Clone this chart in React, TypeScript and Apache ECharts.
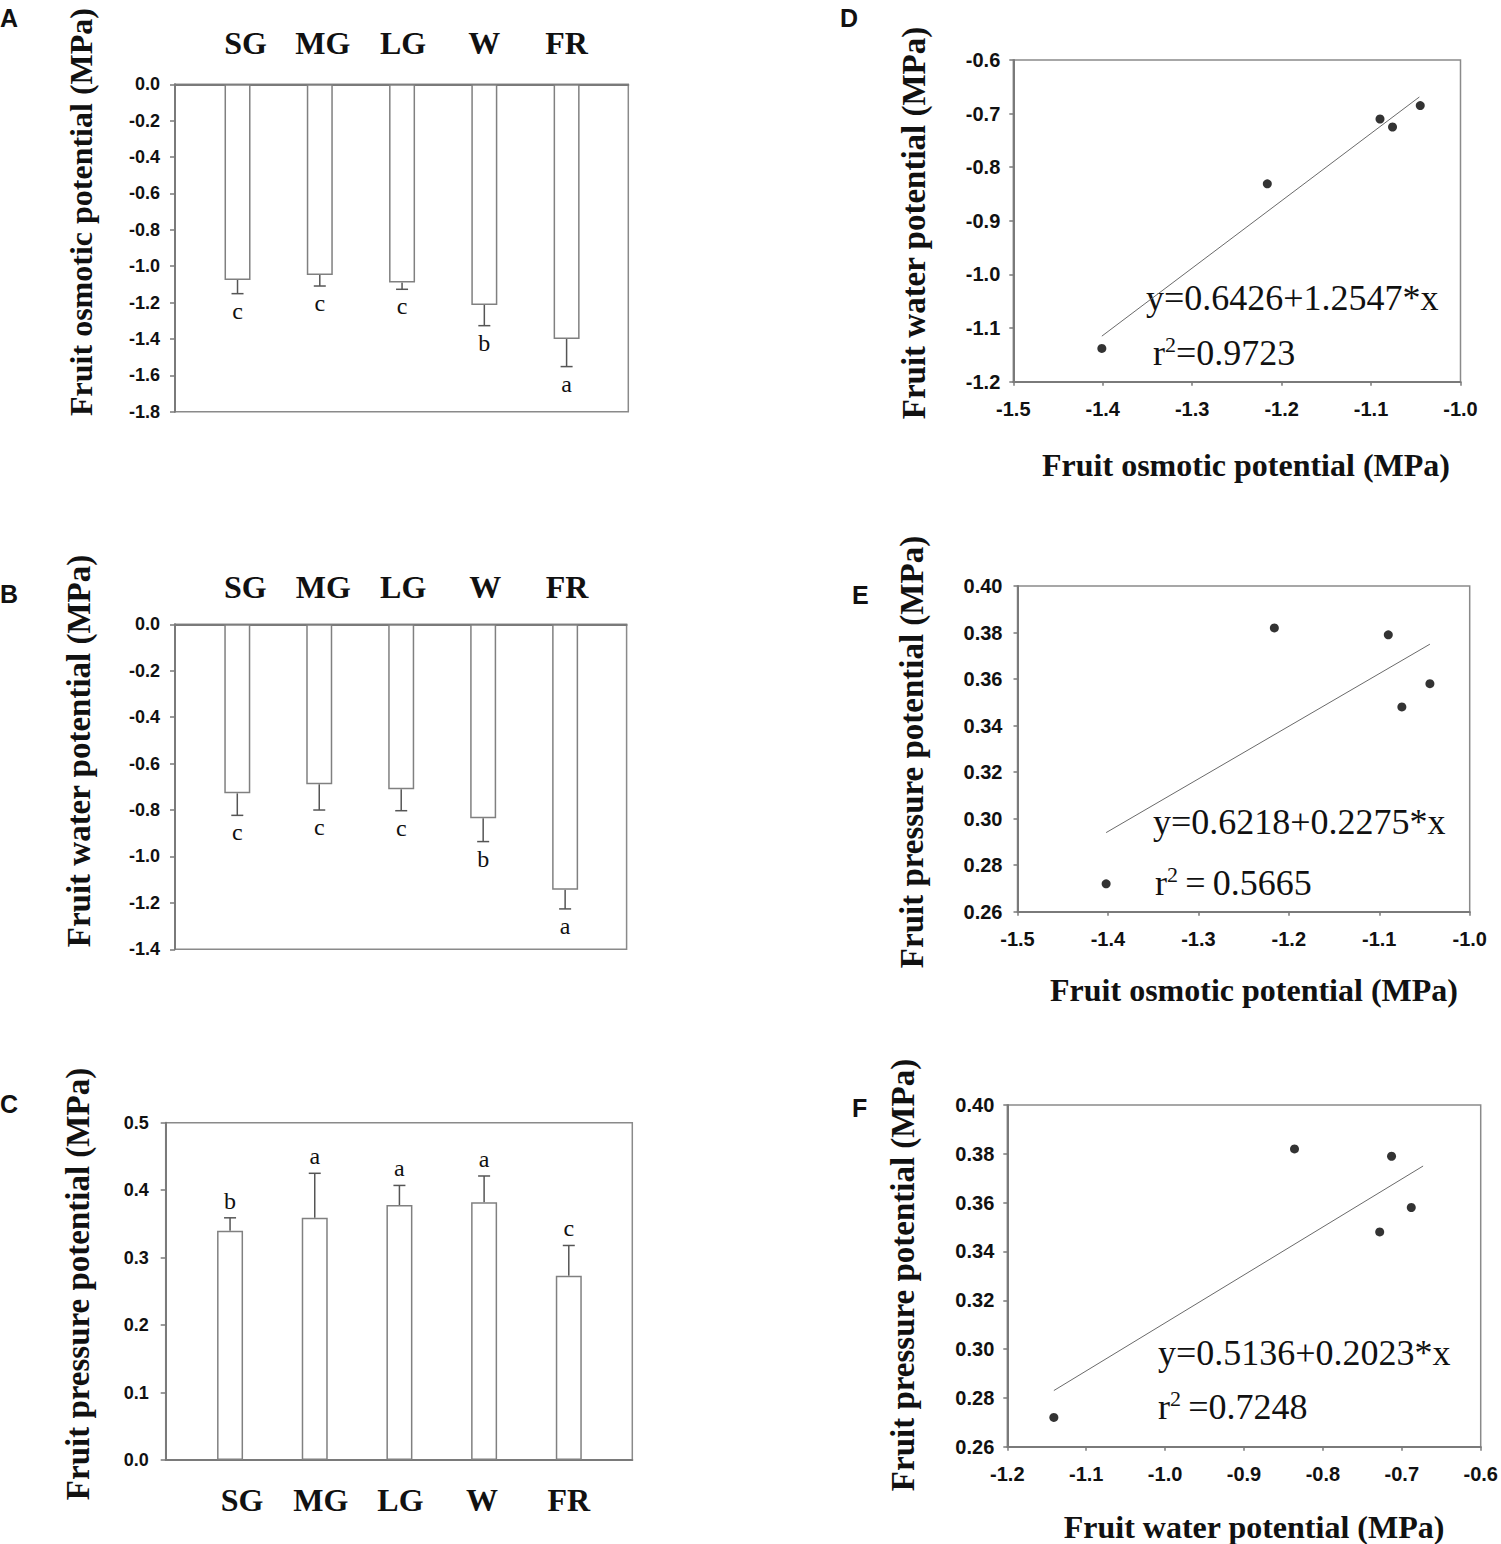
import React, { useEffect, useRef } from 'react';
import * as echarts from 'echarts';

// ---------- data ----------
const stages = ['SG', 'MG', 'LG', 'W', 'FR'];
const stagePos = [1, 2, 3, 4, 5];

const osmoticMean = [-1.076, -1.048, -1.089, -1.213, -1.4];
const osmoticErr = [0.075, 0.061, 0.038, 0.114, 0.152];
const osmoticLetters = ['c', 'c', 'c', 'b', 'a'];

const waterMean = [-0.728, -0.689, -0.711, -0.836, -1.144];
const waterErr = [0.095, 0.111, 0.092, 0.1, 0.082];
const waterLetters = ['c', 'c', 'c', 'b', 'a'];

const pressureMean = [0.34, 0.359, 0.378, 0.382, 0.273];
const pressureErr = [0.019, 0.066, 0.029, 0.039, 0.045];
const pressureLetters = ['b', 'a', 'a', 'a', 'c'];

const dOsmotic = [-1.076, -1.045, -1.09, -1.216, -1.401];
const dWater = [-0.725, -0.685, -0.71, -0.831, -1.138];
const fitD = [[-1.401, -1.115], [-1.046, -0.669]];

const eOsmotic = [-1.075, -1.044, -1.09, -1.216, -1.402];
const ePressure = [0.348, 0.358, 0.379, 0.382, 0.272];
const fitE = [[-1.402, 0.294], [-1.044, 0.375]];

const fWater = [-0.728, -0.688, -0.713, -0.836, -1.141];
const fPressure = [0.348, 0.358, 0.379, 0.382, 0.272];
const fitF = [[-1.141, 0.283], [-0.673, 0.375]];

const eqD = ['y=0.6426+1.2547*x', '=0.9723'];
const eqE = ['y=0.6218+0.2275*x', '\u2009=\u20090.5665'];
const eqF = ['y=0.5136+0.2023*x', '\u2009=0.7248'];

// ---------- styles ----------
const SERIF = '"Liberation Serif", "Times New Roman", serif';
const SANS = '"Liberation Sans", Arial, sans-serif';
const FRAME = '#8a8a8a';
const AXIS = '#7a7a7a';
const INK = '#111';

const barPanels = [
  {
    grid: { left: 175, top: 84.3, width: 453.3, height: 327.4 },
    mean: osmoticMean, err: osmoticErr, letters: osmoticLetters,
    yMin: -1.8, yMax: 0, yInt: 0.2, labelPos: 'top', labelMargin: 41,
    labelShift: [8, 3, 1, 0, 0], yLabelMargin: 15,
  },
  {
    grid: { left: 175, top: 624.3, width: 451.6, height: 325 },
    mean: waterMean, err: waterErr, letters: waterLetters,
    yMin: -1.4, yMax: 0, yInt: 0.2, labelPos: 'top', labelMargin: 37,
    labelShift: [8, 4, 2, 2, 2], yLabelMargin: 15,
  },
  {
    grid: { left: 165.7, top: 1122.7, width: 466.6, height: 337.3 },
    mean: pressureMean, err: pressureErr, letters: pressureLetters,
    yMin: 0, yMax: 0.5, yInt: 0.1, labelPos: 'bottom', labelMargin: 40,
    labelShift: [12, 6, 1, -2, 0], yLabelMargin: 17,
  },
];

const scatterPanels = [
  {
    grid: { left: 1013.3, top: 60, width: 447.2, height: 321.7 },
    xs: dOsmotic, ys: dWater, fit: fitD,
    xMin: -1.5, xMax: -1.0, yMin: -1.2, yMax: -0.6, yInt: 0.1, yDigits: 1, yLabelMargin: 13,
  },
  {
    grid: { left: 1017.5, top: 586, width: 452.2, height: 325.7 },
    xs: eOsmotic, ys: ePressure, fit: fitE,
    xMin: -1.5, xMax: -1.0, yMin: 0.26, yMax: 0.4, yInt: 0.02, yDigits: 2, yLabelMargin: 15,
  },
  {
    grid: { left: 1007.3, top: 1105, width: 473.4, height: 341.7 },
    xs: fWater, ys: fPressure, fit: fitF,
    xMin: -1.2, xMax: -0.6, yMin: 0.26, yMax: 0.4, yInt: 0.02, yDigits: 2, yLabelMargin: 13,
  },
];

function buildOption() {
  const grid: any[] = [];
  const xAxis: any[] = [];
  const yAxis: any[] = [];
  const series: any[] = [];

  barPanels.forEach((p) => {
    const gi = grid.length;
    grid.push({ ...p.grid, show: true, borderColor: FRAME, borderWidth: 1.5, backgroundColor: 'transparent' });
    const rich: any = {};
    p.labelShift.forEach((s, i) => {
      rich['s' + i] = {
        fontFamily: SERIF, fontWeight: 'bold', fontSize: 32, color: INK,
        padding: s >= 0 ? [0, 0, 0, 2 * s] : [0, -2 * s, 0, 0],
      };
    });
    xAxis.push({
      gridIndex: gi, type: 'value', min: 0.24, max: 5.75, position: p.labelPos,
      axisLine: { show: true, onZero: false, lineStyle: { color: AXIS, width: 2 } },
      axisTick: { show: false }, splitLine: { show: false },
      axisLabel: {
        customValues: stagePos,
        formatter: (v: number) => {
          const i = Math.round(v) - 1;
          return Math.abs(v - Math.round(v)) < 1e-6 && i >= 0 && i < 5 ? `{s${i}|${stages[i]}}` : '';
        },
        rich, margin: p.labelMargin, verticalAlign: 'middle',
        fontFamily: SERIF, fontWeight: 'bold', fontSize: 32, color: INK,
      },
    });
    yAxis.push({
      gridIndex: gi, type: 'value', min: p.yMin, max: p.yMax, interval: p.yInt,
      axisLine: { show: true, onZero: false, lineStyle: { color: AXIS, width: 2 } },
      axisTick: { show: true, inside: false, length: 5, lineStyle: { color: AXIS, width: 1.5 } },
      splitLine: { show: false },
      axisLabel: {
        formatter: (v: number) => v.toFixed(1), margin: p.yLabelMargin,
        fontFamily: SANS, fontWeight: 'bold', fontSize: 18, color: INK,
      },
    });
    series.push({
      type: 'bar', xAxisIndex: gi, yAxisIndex: gi, silent: true, barWidth: 26,
      data: stagePos.map((x, i) => [x, p.mean[i]]),
      itemStyle: { color: '#fff', borderColor: '#808080', borderWidth: 1.5 },
    });
    const letters = p.letters;
    series.push({
      type: 'custom', xAxisIndex: gi, yAxisIndex: gi, silent: true,
      data: stagePos.map((x, i) => [x, p.mean[i], p.err[i], i]),
      encode: { x: 0, y: 1 },
      renderItem: (params: any, api: any) => {
        const x = api.value(0);
        const m = api.value(1);
        const e = api.value(2);
        const idx = api.value(3);
        const sign = m < 0 ? -1 : 1;
        const p0 = api.coord([x, m]);
        const p1 = api.coord([x, m + sign * e]);
        const cap = 6;
        const ls = { stroke: '#555', lineWidth: 1.5 };
        return {
          type: 'group',
          children: [
            { type: 'line', shape: { x1: p0[0], y1: p0[1], x2: p1[0], y2: p1[1] }, style: ls },
            { type: 'line', shape: { x1: p1[0] - cap, y1: p1[1], x2: p1[0] + cap, y2: p1[1] }, style: ls },
            {
              type: 'text', x: p1[0], y: p1[1] - sign * 17,
              style: {
                text: letters[idx], fontFamily: SERIF, fontSize: 24, fill: INK,
                align: 'center', verticalAlign: 'middle',
              },
            },
          ],
        };
      },
    });
  });

  scatterPanels.forEach((p) => {
    const gi = grid.length;
    grid.push({ ...p.grid, show: true, borderColor: FRAME, borderWidth: 1.5, backgroundColor: 'transparent' });
    xAxis.push({
      gridIndex: gi, type: 'value', min: p.xMin, max: p.xMax, interval: 0.1,
      axisLine: { show: true, onZero: false, lineStyle: { color: AXIS, width: 2 } },
      axisTick: { show: true, inside: false, length: 4, lineStyle: { color: AXIS, width: 1.5 } },
      splitLine: { show: false },
      axisLabel: {
        formatter: (v: number) => v.toFixed(1), margin: 17,
        fontFamily: SANS, fontWeight: 'bold', fontSize: 20, color: INK,
      },
    });
    yAxis.push({
      gridIndex: gi, type: 'value', min: p.yMin, max: p.yMax, interval: p.yInt,
      axisLine: { show: true, onZero: false, lineStyle: { color: AXIS, width: 2 } },
      axisTick: { show: true, inside: false, length: 4, lineStyle: { color: AXIS, width: 1.5 } },
      splitLine: { show: false },
      axisLabel: {
        formatter: (v: number) => v.toFixed(p.yDigits), margin: p.yLabelMargin,
        fontFamily: SANS, fontWeight: 'bold', fontSize: 20, color: INK,
      },
    });
    series.push({
      type: 'line', xAxisIndex: gi, yAxisIndex: gi, silent: true, showSymbol: false,
      data: p.fit, lineStyle: { color: '#6a6a6a', width: 1 },
    });
    series.push({
      type: 'scatter', xAxisIndex: gi, yAxisIndex: gi, silent: true, symbolSize: 9,
      data: p.xs.map((x, i) => [x, p.ys[i]]), itemStyle: { color: '#000' },
    });
  });

  const panelLetter = (t: string, x: number, y: number) => ({
    type: 'text', x, y,
    style: { text: t, fontFamily: SANS, fontWeight: 'bold', fontSize: 25, fill: INK, align: 'left', verticalAlign: 'middle' },
  });
  const yTitle = (t: string, x: number, y: number, size = 33) => ({
    type: 'text', x, y, rotation: Math.PI / 2,
    style: { text: t, fontFamily: SERIF, fontWeight: 'bold', fontSize: size, fill: INK, align: 'center', verticalAlign: 'middle' },
  });
  const xTitle = (t: string, x: number, y: number) => ({
    type: 'text', x, y,
    style: { text: t, fontFamily: SERIF, fontWeight: 'bold', fontSize: 32, fill: INK, align: 'center', verticalAlign: 'middle' },
  });
  const eqText = (t: string, x: number, y: number) => ({
    type: 'text', x, y,
    style: { text: t, fontFamily: SERIF, fontSize: 36, fill: INK, align: 'left', verticalAlign: 'middle' },
  });
  const r2Text = (t: string, x: number, y: number) => ({
    type: 'text', x, y,
    style: {
      text: `{a|r}{s|2}{a|${t}}`, align: 'left', verticalAlign: 'middle',
      rich: {
        a: { fontFamily: SERIF, fontSize: 36, fill: INK, lineHeight: 40 },
        s: { fontFamily: SERIF, fontSize: 22, fill: INK, verticalAlign: 'top', lineHeight: 40 },
      },
    },
  });

  const graphic = [
    panelLetter('A', 0, 17.5),
    panelLetter('B', 0, 594),
    panelLetter('C', 0, 1104),
    panelLetter('D', 840, 17.5),
    panelLetter('E', 852, 595),
    panelLetter('F', 852, 1107.5),
    yTitle('Fruit osmotic potential (MPa)', 81, 212, 32),
    yTitle('Fruit water potential (MPa)', 79, 751),
    yTitle('Fruit pressure potential (MPa)', 78, 1284),
    yTitle('Fruit water potential (MPa)', 914, 223),
    yTitle('Fruit pressure potential (MPa)', 912, 752),
    yTitle('Fruit pressure potential (MPa)', 903, 1275),
    xTitle('Fruit osmotic potential (MPa)', 1246, 465),
    xTitle('Fruit osmotic potential (MPa)', 1254, 990),
    xTitle('Fruit water potential (MPa)', 1254, 1527),
    eqText(eqD[0], 1146, 298),
    r2Text(eqD[1], 1153, 353),
    eqText(eqE[0], 1153, 822),
    r2Text(eqE[1], 1155, 883),
    eqText(eqF[0], 1158, 1353),
    r2Text(eqF[1], 1158, 1407),
  ];

  return { animation: false, backgroundColor: '#fff', grid, xAxis, yAxis, series, graphic };
}

export default function App() {
  const ref = useRef<HTMLDivElement>(null);
  useEffect(() => {
    if (!ref.current) return;
    const chart = echarts.init(ref.current, undefined, { renderer: 'svg' });
    chart.setOption(buildOption() as any);
    return () => chart.dispose();
  }, []);
  return (
    <div
      ref={ref}
      style={{ position: 'absolute', left: 0, top: 0, width: 1501, height: 1544, background: '#fff' }}
    />
  );
}
